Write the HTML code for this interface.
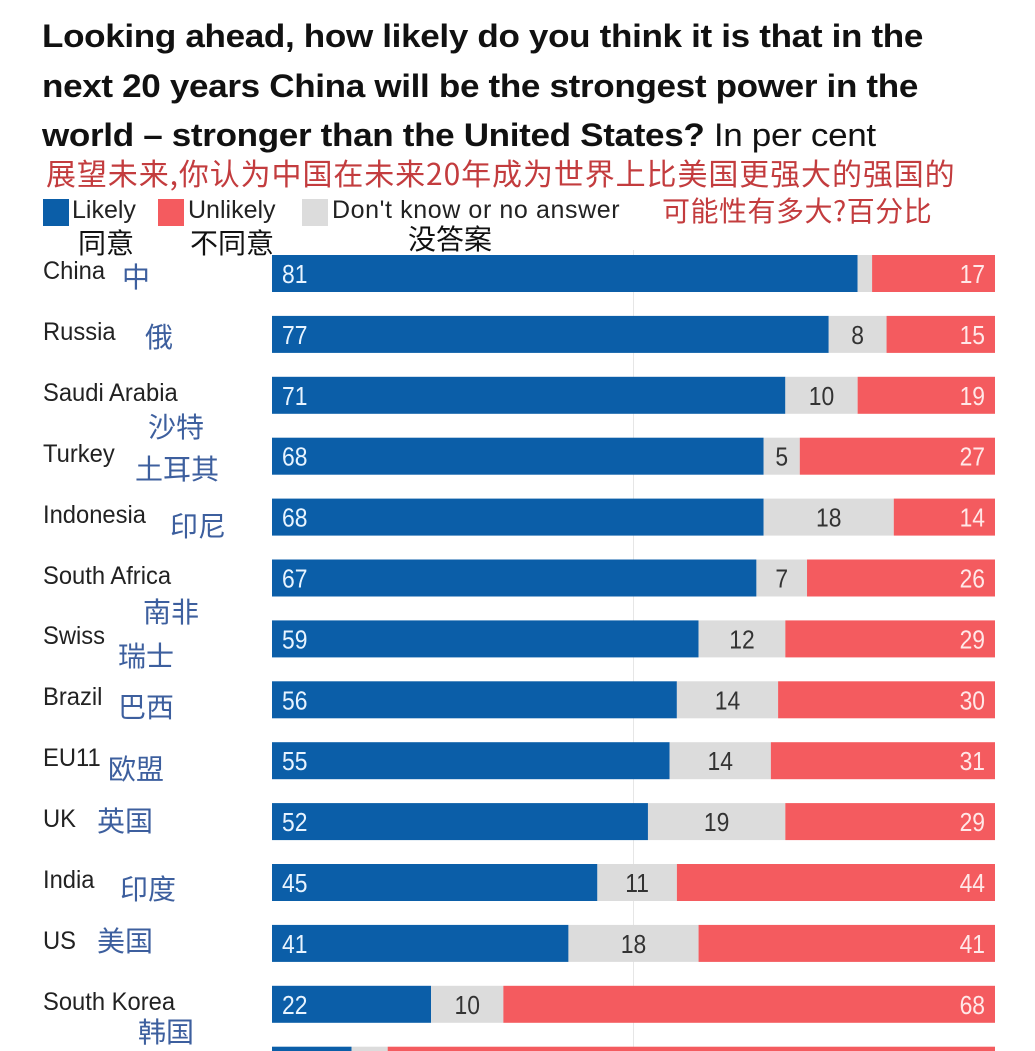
<!DOCTYPE html>
<html><head><meta charset="utf-8"><style>
body{margin:0;background:#fff;width:1035px;height:1051px;overflow:hidden;position:relative;font-family:"Liberation Sans","Noto Sans CJK SC",sans-serif}
.t{position:absolute;left:42px;font-weight:bold;font-size:32px;color:#111;letter-spacing:-0.3px;white-space:nowrap;transform:scaleX(1.095);transform-origin:left}
.cn{position:absolute;font-size:28px;color:#3d5f9e;white-space:nowrap;font-family:"Noto Sans CJK SC",sans-serif}
.lab{position:absolute;left:43px;font-size:25px;color:#222;white-space:nowrap;transform:scaleX(0.95);transform-origin:left}
.lg{position:absolute;top:196px;font-size:25px;color:#222;white-space:nowrap}
.sq{position:absolute;top:199px;width:26px;height:27px}
</style></head><body>
<div class="t" style="top:18px">Looking ahead, how likely do you think it is that in the</div>
<div class="t" style="top:68px">next 20 years China will be the strongest power in the</div>
<div class="t" style="top:117px">world – stronger than the United States? <span style="font-weight:normal">In per cent</span></div>
<div class="cn" style="left:46px;top:150px;color:#c33c3e;font-size:30px;letter-spacing:0.9px">展望未来,你认为中国在未来20年成为世界上比美国更强大的强国的</div>
<div class="cn" style="left:662px;top:190px;color:#c33c3e;font-size:28px;letter-spacing:0.5px">可能性有多大?百分比</div>
<div class="sq" style="left:43px;background:#0b5ea8"></div>
<div class="lg" style="left:72px">Likely</div>
<div class="sq" style="left:158px;background:#f45b5f"></div>
<div class="lg" style="left:188px">Unlikely</div>
<div class="sq" style="left:302px;background:#dcdcdc"></div>
<div class="lg" style="left:332px;letter-spacing:0.6px">Don't know or no answer</div>
<div class="cn" style="left:78px;top:222px;color:#111">同意</div>
<div class="cn" style="left:190px;top:222px;color:#111">不同意</div>
<div class="cn" style="left:408px;top:218px;color:#111">没答案</div>
<svg id="chart" width="1035" height="1051" style="position:absolute;left:0;top:0"></svg>
<div id="labels"></div>
<script>
const countries=["China","Russia","Saudi Arabia","Turkey","Indonesia","South Africa","Swiss","Brazil","EU11","UK","India","US","South Korea",""];
const cnNames=["中","俄","沙特","土耳其","印尼","南非","瑞士","巴西","欧盟","英国","印度","美国","韩国",""];
const likely=[81,77,71,68,68,67,59,56,55,52,45,41,22,11];
const dontKnow=[2,8,10,5,18,7,12,14,14,19,11,18,10,5];
const unlikely=[17,15,19,27,14,26,29,30,31,29,44,41,68,84];
const cnPos=[[122,256],[145,316],[148,406],[135,448],[170,505],[143,591],[118,635],[118,686],[108,748],[97,800],[120,868],[97,920],[138,1011],[0,0]];
const X0=272,W=723,Y0=255,STEP=60.9,BH=37;
const x=v=>X0+v/100*W;
const y=i=>Y0+i*STEP;
const svg=document.getElementById('chart');const NS='http://www.w3.org/2000/svg';
const g=document.createElementNS(NS,'line');
g.setAttribute('x1',x(50));g.setAttribute('x2',x(50));g.setAttribute('y1',250);g.setAttribute('y2',1051);g.setAttribute('stroke','#e6e6e6');


svg.appendChild(g);
function rect(x1,w,yy,c,nm){const r=document.createElementNS(NS,'rect');r.setAttribute('x',x1);r.setAttribute('y',yy);r.setAttribute('width',w);r.setAttribute('height',BH);r.setAttribute('fill',c);


svg.appendChild(r);}
function txt(xx,yy,s,c,anchor,nm){const t=document.createElementNS(NS,'text');t.setAttribute('x',xx);t.setAttribute('y',yy);t.setAttribute('fill',c);t.setAttribute('font-size','26');t.setAttribute('text-anchor',anchor);t.setAttribute('font-family','Liberation Sans, sans-serif');t.setAttribute('transform','translate('+xx+' 0) scale(0.88 1) translate('+(-xx)+' 0)');t.textContent=s;


svg.appendChild(t);}
const labs=document.getElementById('labels');
countries.forEach((c,i)=>{
 const yy=y(i);
 const a=likely[i],d=dontKnow[i],u=unlikely[i];
 rect(x(0),x(a)-x(0),yy,'#0b5ea8','bar-likely');
 rect(x(a),x(a+d)-x(a),yy,'#dcdcdc','bar-dont-know');
 rect(x(a+d),x(100)-x(a+d),yy,'#f45b5f','bar-unlikely');
 if(c){
 txt(x(0)+10,yy+28,String(a),'#e8f4ff','start','value-likely');
 if(d>=5) txt((x(a)+x(a+d))/2,yy+28,String(d),'#333','middle','value-dont-know');
 txt(x(100)-10,yy+28,String(u),'#ffe8e8','end','value-unlikely');
 const l=document.createElement('div');l.className='lab';l.style.top=(yy+2)+'px';l.textContent=c;
 
 
 labs.appendChild(l);
 const n=document.createElement('div');n.className='cn';n.style.left=cnPos[i][0]+'px';n.style.top=cnPos[i][1]+'px';n.textContent=cnNames[i];
 
 
 labs.appendChild(n);
 }
});
</script>
</body></html>
